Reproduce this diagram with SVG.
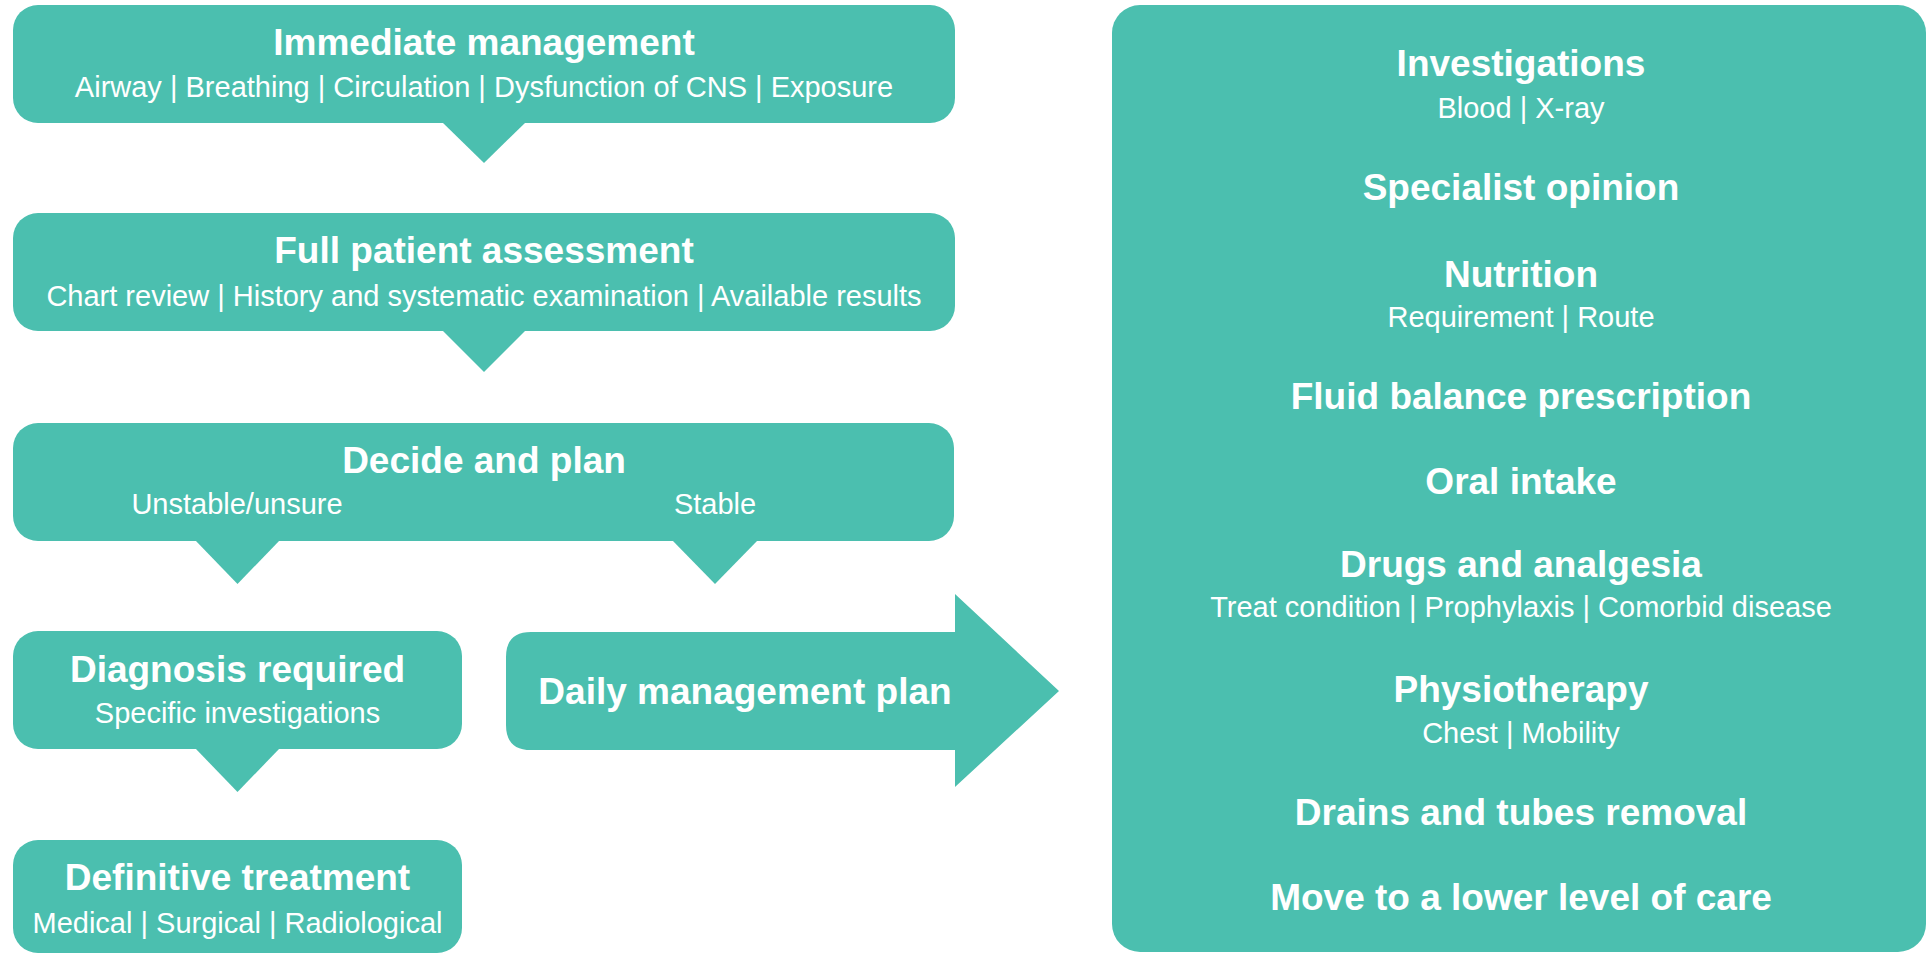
<svg xmlns="http://www.w3.org/2000/svg" width="1931" height="954" viewBox="0 0 1931 954">
<style>
.box{fill:#4bbfaf}
.t{font-family:"Liberation Sans",Arial,sans-serif;font-weight:bold;font-size:37px;fill:#ffffff;text-anchor:middle}
.s{font-family:"Liberation Sans",Arial,sans-serif;font-size:29px;fill:#ffffff;text-anchor:middle}
</style>
<rect width="1931" height="954" fill="#ffffff"/>
<g id="connectors">
<polygon class="box" points="442,122 526,122 484,163"/>
<polygon class="box" points="442,330 526,330 484,372"/>
<polygon class="box" points="195,540 280,540 237.5,584"/>
<polygon class="box" points="672,540 758,540 715,584"/>
<polygon class="box" points="195,748 280,748 237.5,792"/>
</g>
<g id="immediate">
<rect class="box" x="13" y="5" width="942" height="118" rx="25"/>
<text class="t" x="484" y="55">Immediate management</text>
<text class="s" x="484" y="97">Airway | Breathing | Circulation | Dysfunction of CNS | Exposure</text>
</g>
<g id="assessment">
<rect class="box" x="13" y="213" width="942" height="118" rx="25"/>
<text class="t" x="484" y="263">Full patient assessment</text>
<text class="s" x="484" y="306">Chart review | History and systematic examination | Available results</text>
</g>
<g id="decide">
<rect class="box" x="13" y="423" width="941" height="118" rx="25"/>
<text class="t" x="484" y="473">Decide and plan</text>
<text class="s" x="237" y="514">Unstable/unsure</text>
<text class="s" x="715" y="514">Stable</text>
</g>
<g id="diagnosis">
<rect class="box" x="13" y="631" width="449" height="118" rx="25"/>
<text class="t" x="237.5" y="682">Diagnosis required</text>
<text class="s" x="237.5" y="723">Specific investigations</text>
</g>
<g id="definitive">
<rect class="box" x="13" y="840" width="449" height="113" rx="25"/>
<text class="t" x="237.5" y="890">Definitive treatment</text>
<text class="s" x="237.5" y="933">Medical | Surgical | Radiological</text>
</g>
<g id="daily">
<path class="box" d="M531,632 H955 V594 L1059,691 L955,787 V750 H531 Q506,750 506,725 V657 Q506,632 531,632 Z"/>
<text class="t" x="745" y="704">Daily management plan</text>
</g>
<g id="plan-items">
<rect class="box" x="1112" y="5" width="814" height="947" rx="28"/>
<text class="t" x="1521" y="76">Investigations</text>
<text class="s" x="1521" y="118">Blood | X-ray</text>
<text class="t" x="1521" y="200">Specialist opinion</text>
<text class="t" x="1521" y="287">Nutrition</text>
<text class="s" x="1521" y="327">Requirement | Route</text>
<text class="t" x="1521" y="409">Fluid balance prescription</text>
<text class="t" x="1521" y="494">Oral intake</text>
<text class="t" x="1521" y="577">Drugs and analgesia</text>
<text class="s" x="1521" y="617">Treat condition | Prophylaxis | Comorbid disease</text>
<text class="t" x="1521" y="702">Physiotherapy</text>
<text class="s" x="1521" y="743">Chest | Mobility</text>
<text class="t" x="1521" y="825">Drains and tubes removal</text>
<text class="t" x="1521" y="910">Move to a lower level of care</text>
</g>
</svg>
